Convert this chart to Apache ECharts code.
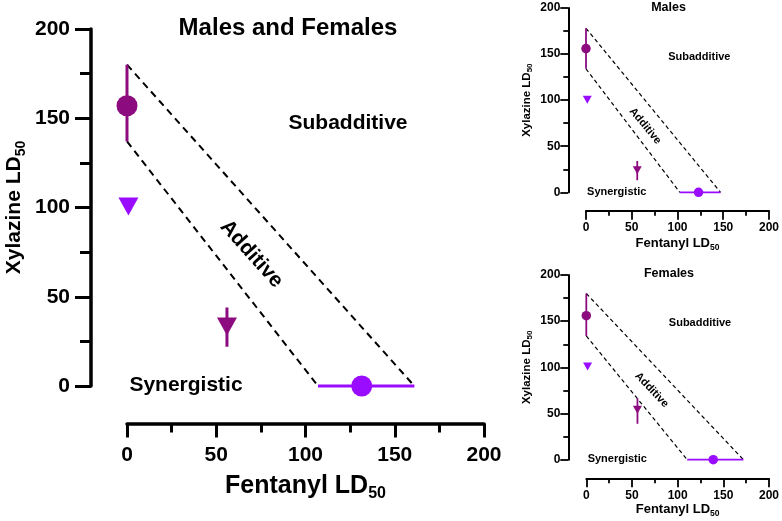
<!DOCTYPE html>
<html>
<head>
<meta charset="utf-8">
<script src="https://cdn.jsdelivr.net/npm/echarts@6/dist/echarts.min.js"></script>
<style>
html,body{margin:0;padding:0;background:#ffffff;}
#c{width:782px;height:521px;}
</style>
</head>
<body>
<div id="c"></div>
<script>
// ---- data ----
const panelTitles = ['Males and Females', 'Males', 'Females'];
const axisMin = 0;
const axisMax = 200;
const axisStep = 50;
// xylazine alone (on the y axis, fentanyl = 0)
const xylazineAlone = [157, 156, 156];
const xylazineAloneLow = [137, 134, 134];
const xylazineAloneHigh = [180, 178, 180];
// fentanyl alone (on the x axis, xylazine = 0)
const fentanylAlone = [131.5, 123, 139];
const fentanylAloneLow = [107, 102.5, 110.5];
const fentanylAloneHigh = [161, 147, 172];
// mixture point (dark magenta triangle)
const mixFentanyl = [56, 56, 56];
const mixXylazine = [33.3, 24, 54];
const mixXylazineLow = [22, 13, 39];
const mixXylazineHigh = [44, 34, 66.5];
// mixture point (violet triangle)
const mix2Fentanyl = [0.8, 1.4, 1.4];
const mix2Xylazine = [100.5, 100.5, 101];
// region labels
const regionLabels = ['Subadditive', 'Additive', 'Synergistic'];

// ---- layout & style ----
const FONT = '"Liberation Sans", Arial, Helvetica, sans-serif';
const MAG = '#8C0C80';
const PUR = '#9A0CFF';
const layouts = [
  {left:127, top:29, w:357, h:357, yOff:36, xOff:37.5, xGap:50, yGap:65,
   axisW:3.5, tickW:3, yTick:16, yMinor:11, xTick:14, xMinor:9, tick:21, yLblM:21, xLblM:21,
   xName:25, xSub:16, xSubPad:14, yName:21, ySub:14, ySubPad:12,
   errW:3, dashW:2, dash:[7,5], circ:21, tri:[20,18],
   title:24, ann:21, titlePos:[288,28], subPos:[348,123], synPos:[186,385], addPos:[251.5,254], addRot:-48},
  {left:586, top:8, w:183.5, h:184.3, yOff:17.7, xOff:18.4, xGap:26, yGap:35,
   axisW:2, tickW:1.8, yTick:8, yMinor:5, xTick:9, xMinor:5, tick:12, yLblM:8, xLblM:11,
   xName:13, xSub:8.5, xSubPad:7, yName:11.5, ySub:8, ySubPad:6,
   errW:1.8, dashW:1.2, dash:[4,3], circ:9.5, tri:[9,8],
   title:12.5, ann:11, titlePos:[668.5,7.5], subPos:[699.3,56.7], synPos:[616.7,192.3], addPos:[645.2,126], addRot:-50.5},
  {left:586.3, top:275, w:184.4, h:184.7, yOff:18, xOff:18.6, xGap:22, yGap:35,
   axisW:2, tickW:1.8, yTick:8, yMinor:5, xTick:9, xMinor:5, tick:12, yLblM:8, xLblM:11,
   xName:13, xSub:8.5, xSubPad:7, yName:11.5, ySub:8, ySubPad:6,
   errW:1.8, dashW:1.2, dash:[4,3], circ:9.5, tri:[9,8],
   title:12.5, ann:11, titlePos:[669,274], subPos:[700,323.3], synPos:[617.3,459.3], addPos:[651.7,390], addRot:-46.5}
];

const grid = [], xAxis = [], yAxis = [], series = [], graphic = [];

function lineSeries(i, data, color, width, type, z) {
  return {
    type: 'line', xAxisIndex: i, yAxisIndex: i, data: data,
    symbol: 'none', clip: false, silent: true, animation: false, z: z,
    lineStyle: {color: color, width: width, type: type, cap: 'butt'}
  };
}

layouts.forEach(function (L, i) {
  grid.push({left: L.left, top: L.top, width: L.w, height: L.h, containLabel: false});
  const common = {
    type: 'value', gridIndex: i, min: axisMin, max: axisMax, interval: axisStep,
    splitLine: {show: false}, minorSplitLine: {show: false},
    axisLine: {show: true, onZero: false, lineStyle: {color: '#000', width: L.axisW}},
    nameLocation: 'middle'
  };
  xAxis.push(Object.assign({}, common, {
    position: 'bottom', offset: L.xOff,
    axisTick: {show: true, length: L.xTick, lineStyle: {color: '#000', width: L.tickW}},
    minorTick: {show: true, splitNumber: 2, length: L.xMinor, lineStyle: {color: '#000', width: L.tickW}},
    axisLabel: {margin: L.xLblM, fontSize: L.tick, fontWeight: 'bold', color: '#000', fontFamily: FONT},
    name: '{m|Fentanyl LD}{s|50}', nameGap: L.xGap,
    nameTextStyle: {fontFamily: FONT, color: '#000', rich: {
      m: {fontSize: L.xName, fontWeight: 'bold', fontFamily: FONT, color: '#000', lineHeight: L.xName + 1, verticalAlign: 'top'},
      s: {fontSize: L.xSub, fontWeight: 'bold', fontFamily: FONT, color: '#000', lineHeight: L.xSub, padding: [L.xSubPad, 0, 0, 0]}
    }}
  }));
  yAxis.push(Object.assign({}, common, {
    position: 'left', offset: L.yOff,
    axisTick: {show: true, length: L.yTick, lineStyle: {color: '#000', width: L.tickW}},
    minorTick: {show: true, splitNumber: 2, length: L.yMinor, lineStyle: {color: '#000', width: L.tickW}},
    axisLabel: {margin: L.yLblM, fontSize: L.tick, fontWeight: 'bold', color: '#000', fontFamily: FONT},
    name: '{m|Xylazine LD}{s|50}', nameGap: L.yGap,
    nameTextStyle: {fontFamily: FONT, color: '#000', rich: {
      m: {fontSize: L.yName, fontWeight: 'bold', fontFamily: FONT, color: '#000', lineHeight: L.yName + 1, verticalAlign: 'top'},
      s: {fontSize: L.ySub, fontWeight: 'bold', fontFamily: FONT, color: '#000', lineHeight: L.ySub, padding: [L.ySubPad, 0, 0, 0]}
    }}
  }));

  // additive lines (dashed) joining the error-bar ends
  series.push(lineSeries(i, [[0, xylazineAloneHigh[i]], [fentanylAloneHigh[i], 0]], '#000', L.dashW, L.dash, 2));
  series.push(lineSeries(i, [[0, xylazineAloneLow[i]], [fentanylAloneLow[i], 0]], '#000', L.dashW, L.dash, 2));
  // error bars
  series.push(lineSeries(i, [[0, xylazineAloneLow[i]], [0, xylazineAloneHigh[i]]], MAG, L.errW, 'solid', 3));
  series.push(lineSeries(i, [[fentanylAloneLow[i], 0], [fentanylAloneHigh[i], 0]], PUR, L.errW, 'solid', 3));
  series.push(lineSeries(i, [[mixFentanyl[i], mixXylazineLow[i]], [mixFentanyl[i], mixXylazineHigh[i]]], MAG, L.errW, 'solid', 3));
  // markers
  series.push({type: 'scatter', xAxisIndex: i, yAxisIndex: i, clip: false, silent: true, animation: false, z: 4,
    symbol: 'circle', symbolSize: L.circ, itemStyle: {color: MAG, opacity: 1}, data: [[0, xylazineAlone[i]]]});
  series.push({type: 'scatter', xAxisIndex: i, yAxisIndex: i, clip: false, silent: true, animation: false, z: 4,
    symbol: 'circle', symbolSize: L.circ, itemStyle: {color: PUR, opacity: 1}, data: [[fentanylAlone[i], 0]]});
  series.push({type: 'scatter', xAxisIndex: i, yAxisIndex: i, clip: false, silent: true, animation: false, z: 4,
    symbol: 'triangle', symbolRotate: 180, symbolSize: L.tri, itemStyle: {color: MAG, opacity: 1},
    data: [[mixFentanyl[i], mixXylazine[i]]]});
  series.push({type: 'scatter', xAxisIndex: i, yAxisIndex: i, clip: false, silent: true, animation: false, z: 4,
    symbol: 'triangle', symbolRotate: 180, symbolSize: L.tri, itemStyle: {color: PUR, opacity: 1},
    data: [[mix2Fentanyl[i], mix2Xylazine[i]]]});

  // texts
  function txt(text, pos, size, rot) {
    return {type: 'text', x: pos[0], y: pos[1], rotation: (rot || 0) * Math.PI / 180, silent: true, z: 10,
      style: {text: text, fill: '#000', font: 'bold ' + size + 'px ' + FONT,
        align: 'center', verticalAlign: 'middle', textAlign: 'center', textVerticalAlign: 'middle'}};
  }
  graphic.push(txt(panelTitles[i], L.titlePos, L.title));
  graphic.push(txt(regionLabels[0], L.subPos, L.ann));
  graphic.push(txt(regionLabels[1], L.addPos, L.ann, L.addRot));
  graphic.push(txt(regionLabels[2], L.synPos, L.ann));
});

const chart = echarts.init(document.getElementById('c'), null, {renderer: 'canvas'});
chart.setOption({
  animation: false,
  backgroundColor: '#ffffff',
  textStyle: {fontFamily: FONT},
  grid: grid, xAxis: xAxis, yAxis: yAxis, series: series, graphic: graphic
});
</script>
</body>
</html>
